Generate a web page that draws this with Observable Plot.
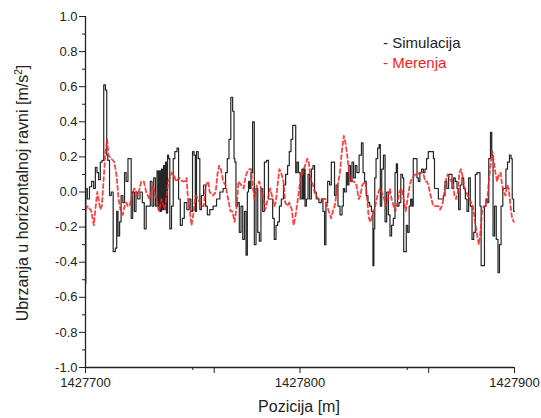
<!DOCTYPE html>
<html><head><meta charset="utf-8">
<script src="https://cdn.jsdelivr.net/npm/d3@7"></script>
<script src="https://cdn.jsdelivr.net/npm/@observablehq/plot@0.6"></script>
<style>
body{margin:0;background:#fff;font-family:"Liberation Sans",Arial,sans-serif;}
#wrap{position:relative;width:541px;height:418px;overflow:hidden;}
#legend{position:absolute;left:383px;top:33px;font-size:15px;line-height:20px;white-space:nowrap;}
#xtitle{position:absolute;left:0;width:598px;top:398px;text-align:center;font-size:16px;line-height:18px;color:#222;}
#ytitle{position:absolute;left:21px;top:193px;transform:translate(-50%,-50%) rotate(-90deg);font-size:16px;line-height:18px;white-space:nowrap;color:#222;}
#ytitle sup{font-size:10px;}
</style></head><body>
<div id="wrap">
<div id="chart"></div>
<div id="legend"><div style="color:#222">- Simulacija</div><div style="color:#ff1a1a">- Merenja</div></div>
<div id="xtitle">Pozicija [m]</div>
<div id="ytitle">Ubrzanja u horizontalnoj ravni [m/s<sup>2</sup>]</div>
</div>
<script>
const simPos = [
1427700.0,1427700.3,1427701.4,1427702.3,1427703.4,1427704.2,1427705.0,1427705.7,1427706.5,1427707.3,
1427708.1,1427708.9,1427709.7,1427710.1,1427710.7,1427711.7,1427712.3,1427713.5,1427714.3,1427714.8,
1427715.5,1427716.3,1427716.9,1427717.9,1427718.5,1427719.4,1427720.2,1427721.0,1427721.6,1427722.4,
1427723.2,1427723.9,1427724.8,1427726.0,1427727.0,1427727.8,1427728.8,1427729.8,1427730.6,1427731.4,
1427732.2,1427733.0,1427733.7,1427734.2,1427734.7,1427735.2,1427735.7,1427736.1,1427736.6,1427737.1,
1427737.5,1427738.0,1427738.5,1427739.0,1427739.6,1427740.6,1427741.2,1427742.1,1427743.2,1427743.6,
1427744.8,1427745.5,1427746.6,1427747.9,1427748.6,1427749.6,1427750.2,1427751.0,1427751.4,1427752.1,
1427753.0,1427753.6,1427754.5,1427755.6,1427756.4,1427757.2,1427758.7,1427760.3,1427761.9,1427763.4,
1427764.9,1427765.7,1427766.5,1427767.3,1427768.2,1427769.0,1427769.5,1427769.8,1427770.5,1427771.3,
1427772.1,1427772.9,1427773.7,1427774.5,1427775.2,1427775.7,1427776.3,1427776.8,1427777.5,1427778.3,
1427779.1,1427779.9,1427780.7,1427781.4,1427782.2,1427783.0,1427783.8,1427785.0,1427785.6,1427786.9,
1427787.6,1427788.4,1427789.2,1427790.0,1427790.8,1427791.8,1427792.8,1427793.8,1427794.6,1427795.4,
1427796.2,1427797.0,1427797.8,1427798.2,1427799.0,1427799.6,1427800.6,1427801.2,1427801.6,1427802.1,
1427802.6,1427803.4,1427804.1,1427804.9,1427805.7,1427806.4,1427807.2,1427808.0,1427809.6,1427810.3,
1427811.1,1427811.8,1427812.4,1427813.4,1427814.2,1427815.0,1427815.8,1427816.4,1427817.3,1427818.1,
1427819.2,1427820.0,1427820.4,1427821.2,1427822.0,1427822.4,1427823.2,1427823.9,1427824.6,1427825.4,
1427826.2,1427826.9,1427828.2,1427829.1,1427829.7,1427830.5,1427831.3,1427832.1,1427832.9,1427833.7,
1427834.3,1427834.6,1427835.1,1427835.8,1427836.6,1427837.2,1427837.7,1427838.5,1427839.3,1427840.0,
1427840.8,1427841.6,1427842.3,1427843.1,1427843.9,1427844.7,1427845.1,1427845.8,1427846.5,1427847.5,
1427848.1,1427848.6,1427849.3,1427849.8,1427850.6,1427851.2,1427852.0,1427852.4,1427853.2,1427854.3,
1427854.8,1427855.5,1427856.3,1427857.1,1427857.9,1427858.6,1427859.4,1427860.2,1427861.8,1427862.6,
1427862.8,1427864.1,1427864.9,1427866.4,1427867.2,1427868.0,1427868.9,1427869.7,1427870.5,1427871.2,
1427872.0,1427872.8,1427873.6,1427874.3,1427875.1,1427875.9,1427876.7,1427877.5,1427878.2,1427879.0,
1427879.8,1427880.6,1427881.4,1427882.1,1427882.9,1427883.7,1427884.1,1427884.8,1427885.7,1427886.3,
1427887.1,1427887.6,1427888.4,1427889.2,1427889.6,1427890.4,1427891.0,1427892.0,1427892.6,1427893.4,
1427894.1,1427895.0,1427895.7,1427896.3,1427897.2,1427898.1,1427898.7,1427899.2,1427900.0
];
const simVal = [
-0.52,0.02,-0.04,0.03,0.06,0.02,0.14,0.11,0.07,0.17,
0.18,0.61,0.58,0.21,0.18,-0.02,0.0,-0.34,-0.32,-0.11,
-0.25,-0.17,-0.02,-0.06,0.11,0.06,0.19,0.19,-0.15,0.0,
-0.11,0.0,-0.04,0.0,-0.06,-0.21,-0.08,-0.08,0.06,-0.08,
0.08,-0.08,0.12,-0.10,0.12,-0.11,0.13,-0.10,0.15,-0.10,
0.17,-0.12,0.21,0.19,-0.21,-0.08,0.19,0.23,0.25,-0.04,
-0.19,-0.15,-0.06,-0.10,-0.04,-0.11,0.23,0.21,-0.11,0.23,
0.19,-0.10,-0.02,0.04,-0.08,-0.13,-0.10,-0.08,-0.04,0.0,
0.02,0.11,0.19,0.30,0.54,0.46,0.19,0.17,-0.08,-0.06,
-0.23,-0.08,-0.27,-0.11,-0.36,0.0,0.06,0.02,0.11,0.40,
-0.30,0.02,-0.23,-0.28,0.02,-0.11,0.17,0.18,-0.04,-0.04,
-0.15,-0.27,-0.19,-0.17,-0.08,-0.04,0.04,0.10,0.15,0.23,
0.30,0.38,0.38,0.11,0.17,0.11,-0.04,0.13,-0.04,0.13,
-0.08,-0.04,0.10,-0.04,0.13,0.15,0.0,-0.04,-0.06,-0.04,
-0.11,-0.30,-0.06,0.06,0.04,0.17,0.17,-0.02,0.04,-0.08,
-0.13,-0.08,0.02,0.0,0.11,0.04,0.15,0.06,0.17,0.08,
0.15,0.11,0.21,0.28,0.11,0.06,-0.02,-0.06,-0.08,-0.11,
-0.42,-0.21,0.08,0.19,0.25,0.27,-0.08,0.13,0.21,-0.17,
0.0,-0.13,-0.25,-0.19,-0.15,0.11,0.16,-0.08,-0.06,0.10,
0.08,-0.34,-0.34,-0.19,-0.23,-0.08,-0.04,-0.08,0.19,0.19,
0.08,0.06,0.11,0.13,0.11,0.13,0.19,0.23,0.23,0.19,
0.02,0.02,-0.04,-0.04,-0.02,0.06,0.02,0.10,0.10,0.02,
0.08,0.06,0.02,-0.10,0.04,0.08,0.02,-0.04,-0.11,0.08,
-0.08,-0.27,-0.23,0.10,0.11,0.11,-0.08,-0.42,-0.42,-0.08,
-0.04,-0.06,0.19,0.34,0.21,-0.25,-0.08,-0.27,-0.46,-0.30,
-0.08,0.02,0.02,0.13,0.17,0.21,0.19,-0.04,-0.11
];
const merPos = [
1427700.0,1427701.1,1427702.7,1427703.9,1427704.5,1427705.5,1427706.1,1427706.9,1427707.6,1427708.5,
1427709.3,1427710.1,1427710.7,1427712.0,1427713.5,1427714.6,1427715.4,1427716.3,1427717.4,1427718.2,
1427719.0,1427719.7,1427720.5,1427722.1,1427722.8,1427724.4,1427726.0,1427727.2,1427728.3,1427729.8,
1427731.4,1427733.0,1427734.4,1427735.4,1427737.0,1427738.6,1427739.3,1427740.1,1427741.2,1427742.1,
1427743.7,1427745.2,1427746.3,1427747.1,1427747.9,1427748.6,1427749.4,1427750.5,1427751.4,1427752.5,
1427754.1,1427755.1,1427756.1,1427757.2,1427757.9,1427759.5,1427760.7,1427761.5,1427762.3,1427763.1,
1427764.2,1427765.3,1427766.5,1427767.6,1427768.5,1427769.5,1427770.5,1427771.3,1427772.6,1427773.7,
1427774.5,1427775.2,1427776.3,1427777.2,1427777.9,1427778.8,1427779.9,1427781.0,1427781.9,1427783.0,
1427783.8,1427785.0,1427786.1,1427786.9,1427788.0,1427788.7,1427789.7,1427790.4,1427791.2,1427792.3,
1427793.1,1427794.2,1427795.0,1427796.2,1427797.0,1427798.0,1427799.0,1427800.1,1427801.8,1427803.4,
1427804.1,1427804.9,1427806.0,1427807.2,1427808.8,1427810.3,1427811.9,1427812.7,1427813.4,1427814.5,
1427815.5,1427816.2,1427817.3,1427818.6,1427819.5,1427820.4,1427821.2,1427822.0,1427822.7,1427823.5,
1427825.1,1427826.3,1427827.4,1427828.2,1427829.0,1427830.5,1427831.3,1427832.1,1427832.9,1427833.7,
1427835.1,1427836.1,1427837.2,1427838.1,1427839.3,1427840.0,1427841.1,1427841.9,1427842.7,1427843.6,
1427844.4,1427845.5,1427846.3,1427847.3,1427848.3,1427849.3,1427850.1,1427850.9,1427851.6,1427852.4,
1427853.7,1427854.8,1427855.8,1427856.8,1427857.6,1427858.4,1427859.1,1427859.9,1427860.5,1427861.3,
1427862.1,1427863.3,1427864.4,1427865.3,1427866.1,1427866.9,1427867.7,1427868.3,1427868.9,1427869.7,
1427870.5,1427871.2,1427872.0,1427872.8,1427873.6,1427874.3,1427875.1,1427875.9,1427876.7,1427877.5,
1427878.2,1427879.0,1427879.8,1427880.6,1427881.4,1427882.1,1427882.9,1427883.4,1427884.1,1427884.9,
1427885.7,1427886.5,1427887.2,1427888.0,1427888.8,1427889.6,1427890.4,1427891.1,1427891.9,1427892.7,
1427893.5,1427894.2,1427895.0,1427895.8,1427896.6,1427897.3,1427898.1,1427898.9,1427899.7
];
const merVal = [
-0.10,-0.08,-0.11,-0.19,-0.11,0.0,-0.04,-0.10,-0.08,0.08,
0.23,0.30,0.21,0.19,0.17,0.08,-0.04,-0.10,-0.13,-0.08,
-0.06,-0.08,-0.08,0.0,0.02,-0.02,0.06,0.06,0.0,-0.04,
0.04,-0.04,-0.11,-0.04,-0.10,0.06,0.08,0.11,0.10,0.06,
0.08,0.06,0.06,0.08,-0.06,-0.10,-0.19,-0.11,-0.02,-0.04,
-0.08,-0.08,0.04,0.06,0.0,-0.02,0.0,0.10,0.15,0.13,
0.06,0.04,-0.04,-0.11,-0.11,-0.17,-0.08,0.06,0.04,0.02,
0.08,0.11,0.13,0.13,0.04,-0.04,0.04,0.06,0.02,-0.04,
-0.10,-0.04,0.02,-0.02,-0.08,-0.06,0.06,0.13,0.11,0.06,
-0.06,-0.08,-0.06,-0.10,-0.19,-0.13,-0.04,0.06,0.13,0.19,
0.17,0.08,0.04,-0.02,-0.04,-0.04,-0.04,-0.08,-0.11,-0.15,
-0.10,-0.08,0.02,0.11,0.23,0.32,0.28,0.21,0.13,0.06,
0.06,0.04,-0.04,-0.02,0.04,0.06,-0.04,-0.15,-0.17,-0.13,
-0.08,-0.02,0.02,0.0,-0.04,-0.08,-0.04,0.02,-0.04,-0.08,
-0.11,-0.06,0.0,0.02,-0.04,-0.11,-0.04,0.02,0.06,0.08,
0.10,0.10,0.11,0.11,0.10,0.06,0.06,0.04,0.0,-0.04,
-0.08,-0.08,-0.08,-0.10,-0.08,-0.04,0.04,0.08,0.10,0.08,
0.06,0.06,-0.02,-0.04,0.0,0.11,0.13,0.08,0.02,0.0,
-0.02,-0.04,-0.06,-0.08,-0.15,-0.21,-0.27,-0.30,-0.23,-0.11,
-0.08,-0.08,-0.06,0.06,0.15,0.23,0.17,0.11,0.06,0.10,
0.11,0.04,0.0,-0.02,0.04,0.02,-0.08,-0.15,-0.17
];
const yMajor = [-1.0,-0.8,-0.6,-0.4,-0.2,0.0,0.2,0.4,0.6,0.8,1.0];
const yMinor = [-0.9,-0.7,-0.5,-0.3,-0.1,0.1,0.3,0.5,0.7,0.9];
const xMajor = [1427700,1427800,1427900];
const xLong = [1427760,1427860];
const xShort = [1427750,1427850];

const sim = simPos.map((p,i)=>({pos:p,val:simVal[i]}));
const mer = merPos.map((p,i)=>({pos:p,val:merVal[i]}));

const chart = Plot.plot({
  width:541, height:418,
  marginLeft:85, marginRight:27, marginTop:16, marginBottom:51,
  x:{domain:[1427700,1427900]},
  y:{domain:[-1,1]},
  style:{fontFamily:'"Liberation Sans",Arial,sans-serif', fontSize:"13px", color:"#222", background:"#fff"},
  marks:[
    Plot.line(sim,{x:"pos",y:"val",stroke:"#262626",strokeWidth:1.2,curve:"step"}),
    Plot.line(mer,{x:"pos",y:"val",stroke:"#ff2020",strokeWidth:1.8,strokeDasharray:"4,3",strokeOpacity:0.85}),
    Plot.axisY({ticks:yMajor,tickSize:6,tickPadding:2,tickFormat:d=>d.toFixed(1),label:null,fontSize:13}),
    Plot.axisY({ticks:yMinor,tickSize:3,tickFormat:()=>"",label:null}),
    Plot.axisX({ticks:xMajor,tickSize:6,tickPadding:4,tickFormat:d=>String(d),label:null,fontSize:13}),
    Plot.axisX({ticks:xLong,tickSize:6,tickFormat:()=>"",label:null}),
    Plot.axisX({ticks:xShort,tickSize:3,tickFormat:()=>"",label:null}),
    Plot.ruleX([1427700],{stroke:"#222",strokeWidth:1.3}),
    Plot.ruleY([-1],{stroke:"#222",strokeWidth:1.3})
  ]
});
document.getElementById("chart").appendChild(chart);
</script>
</body></html>
